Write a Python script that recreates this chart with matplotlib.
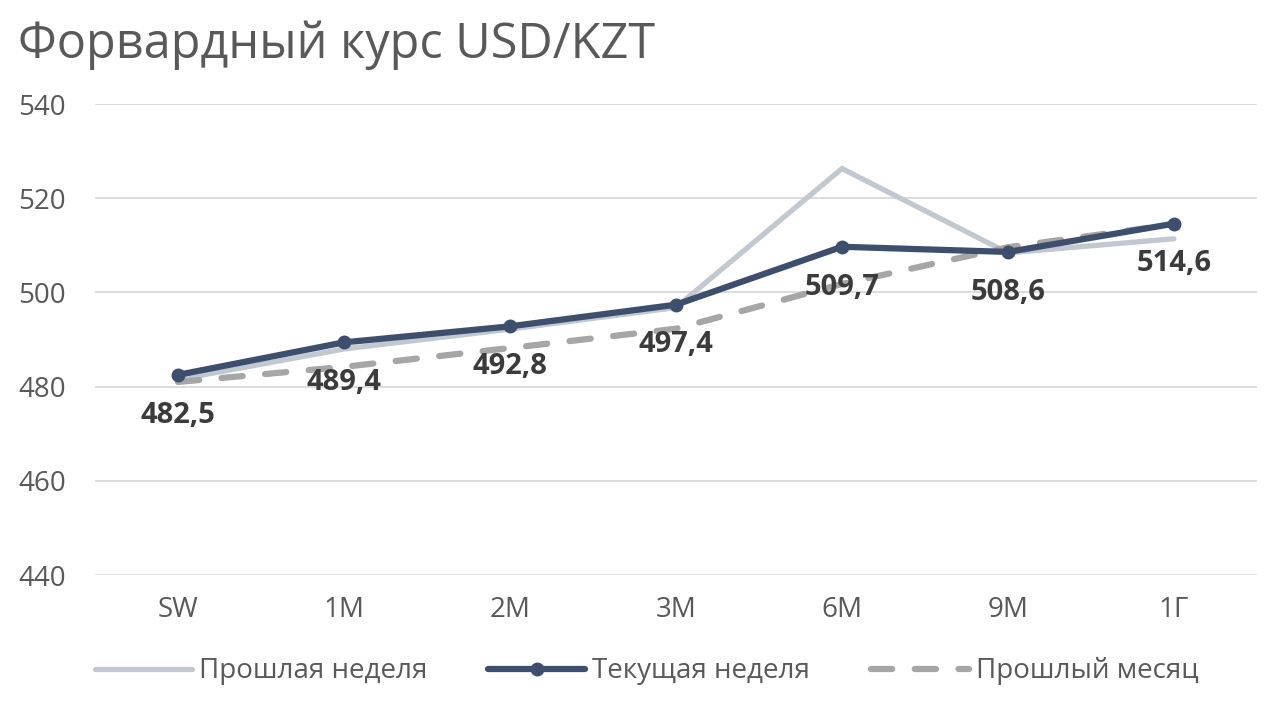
import matplotlib
matplotlib.use("Agg")
import matplotlib.pyplot as plt

categories = ["SW", "1M", "2M", "3M", "6M", "9M", "1Г"]
current_week = [482.5, 489.4, 492.8, 497.4, 509.7, 508.6, 514.6]
previous_week = [481.5, 488.0, 492.2, 496.8, 526.3, 508.4, 511.4]
previous_month = [481.0, 484.2, 488.2, 492.3, 501.8, 509.6, 514.5]
y_ticks = [440, 460, 480, 500, 520, 540]
title = "Форвардный курс USD/KZT"

plt.rcParams['font.family'] = ['Open Sans', 'DejaVu Sans']

fig = plt.figure(figsize=(12.8, 7.03), dpi=100)
ax = fig.add_axes([0.0742, 0.182, 0.9078, 0.670])

x = list(range(len(categories)))
ax.plot(x, previous_week, color="#c2c8d0", lw=3.8, solid_capstyle="round",
        solid_joinstyle="miter", label="Прошлая неделя", zorder=2)
ax.plot(x, previous_month, color="#a6a6a6", lw=4.5, dashes=(3.4, 3.6),
        dash_capstyle="round", label="Прошлый месяц", zorder=3)
ax.plot(x, current_week, color="#3e4f6d", lw=4.5, marker="o", markersize=9,
        solid_capstyle="round", label="Текущая неделя", zorder=4)

for xi, v in zip(x, current_week):
    ax.annotate(f"{v:.1f}".replace(".", ","), (xi, v), xytext=(0, -29),
                textcoords="offset points", ha="center", va="center",
                fontsize=21, fontweight="bold", color="#3b3b3b", zorder=5)

ax.set_xlim(-0.5, len(categories) - 0.5)
ax.set_ylim(440, 540)
ax.set_yticks(y_ticks)
ax.set_xticks(x)
ax.set_xticklabels(categories)
ax.grid(axis="y", color="#d9d9d9", lw=1.3)
ax.set_axisbelow(True)
for s in ax.spines.values():
    s.set_visible(False)
ax.tick_params(axis="both", length=0, labelsize=20, labelcolor="#595959")
ax.tick_params(axis="y", pad=21)
ax.tick_params(axis="x", pad=15)

fig.text(0.014, 0.935, title, fontsize=35, color="#595959", ha="left", va="center")

h, l = ax.get_legend_handles_labels()
order = [0, 2, 1]
leg = fig.legend([h[i] for i in order], [l[i] for i in order], loc="center",
                 bbox_to_anchor=(0.505, 0.045), ncol=3, frameon=False,
                 fontsize=20, handlelength=3.5, columnspacing=2.2,
                 handletextpad=0.25, labelcolor="#595959")

fig.savefig("out.png", dpi=100)
